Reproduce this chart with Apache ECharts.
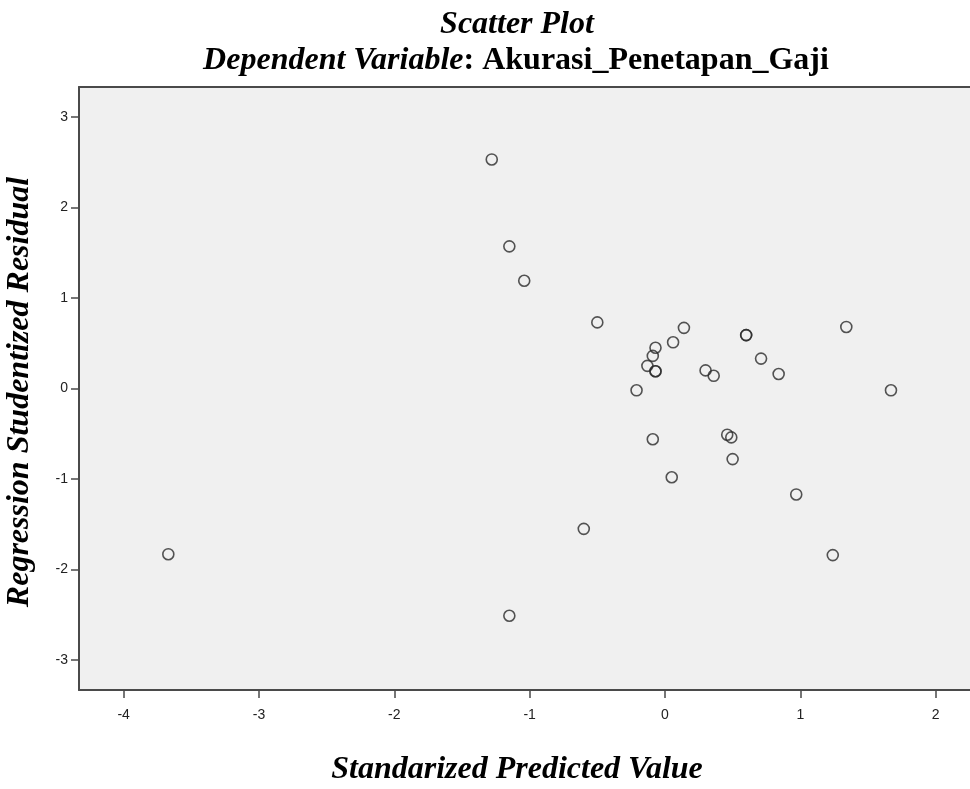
<!DOCTYPE html>
<html>
<head>
<meta charset="utf-8">
<script src="https://cdn.jsdelivr.net/npm/echarts@6/dist/echarts.min.js"></script>
<style>html,body{margin:0;padding:0;background:#fff;}#c{width:970px;height:789px;}</style>
</head>
<body>
<div id="c"></div>
<script>
// Standardized predicted value (x) and studentized residual (y)
var predicted = [-3.67, -1.28, -1.15, -1.04, -0.50, -0.07, -0.09, -0.13, -0.07, -0.07,
                 0.06, 0.14, 0.60, 0.60, 0.71, 0.84, 0.30, 0.36, -0.21, -0.09,
                 0.46, 0.49, 0.50, 0.05, 0.97, 1.24, 1.67, 1.34, -0.60, -1.15];
var residual  = [-1.83, 2.53, 1.57, 1.19, 0.73, 0.45, 0.36, 0.25, 0.19, 0.19,
                 0.51, 0.67, 0.59, 0.59, 0.33, 0.16, 0.20, 0.14, -0.02, -0.56,
                 -0.51, -0.54, -0.78, -0.98, -1.17, -1.84, -0.02, 0.68, -1.55, -2.51];
var xTicks = [-4, -3, -2, -1, 0, 1, 2];
var yTicks = [-3, -2, -1, 0, 1, 2, 3];

var points = predicted.map(function (v, i) { return [v, residual[i]]; });

var chart = echarts.init(document.getElementById('c'));
var axisCol = '#4a4a4a';
var labelStyle = { color: '#222', fontFamily: 'Liberation Sans, Arial, sans-serif', fontSize: 14 };
var serif = '"Liberation Serif", "Times New Roman", serif';
chart.setOption({
  animation: false,
  backgroundColor: '#ffffff',
  grid: { left: 79, top: 87, right: 0, bottom: 99, show: true, backgroundColor: '#f0f0f0', borderWidth: 0 },
  xAxis: [{
    type: 'value', min: -4.33, max: 2.254, position: 'bottom',
    axisLine: { show: true, onZero: false, lineStyle: { color: axisCol, width: 2 } },
    axisTick: { show: true, length: 8, customValues: xTicks, lineStyle: { color: axisCol, width: 1.5 } },
    axisLabel: Object.assign({ customValues: xTicks, margin: 18 }, labelStyle),
    splitLine: { show: false }
  }, {
    type: 'value', min: -4.33, max: 2.254, position: 'top',
    axisLine: { show: true, onZero: false, lineStyle: { color: axisCol, width: 2 } },
    axisTick: { show: false }, axisLabel: { show: false }, splitLine: { show: false }
  }],
  yAxis: {
    type: 'value', min: -3.33, max: 3.33,
    axisLine: { show: true, onZero: false, lineStyle: { color: axisCol, width: 2 } },
    axisTick: { show: true, length: 8, customValues: yTicks, lineStyle: { color: axisCol, width: 1.5 } },
    axisLabel: Object.assign({ customValues: yTicks, margin: 11 }, labelStyle),
    splitLine: { show: false }
  },
  series: [{
    type: 'scatter',
    data: points,
    symbol: 'circle',
    symbolSize: 11,
    itemStyle: { color: 'rgba(0,0,0,0)', borderColor: '#2a2a2a', borderWidth: 1.6 }
  }],
  graphic: [
    { type: 'text', x: 517, y: 25, style: { text: 'Scatter Plot', font: 'italic bold 32px ' + serif, fill: '#000',
        textAlign: 'center', textVerticalAlign: 'middle' } },
    { type: 'text', x: 516, y: 61, style: {
        text: '{a|Dependent Variable}{b|: Akurasi_Penetapan_Gaji}',
        textAlign: 'center', textVerticalAlign: 'middle',
        rich: {
          a: { fontFamily: serif, fontStyle: 'italic', fontWeight: 'bold', fontSize: 32, fill: '#000', color: '#000' },
          b: { fontFamily: serif, fontWeight: 'bold', fontSize: 32, fill: '#000', color: '#000' }
        } } },
    { type: 'text', x: 20, y: 392, rotation: Math.PI / 2, style: {
        text: 'Regression Studentized Residual', font: 'italic bold 32px ' + serif, fill: '#000',
        textAlign: 'center', textVerticalAlign: 'middle' } },
    { type: 'text', x: 517, y: 770, style: {
        text: 'Standarized Predicted Value', font: 'italic bold 32px ' + serif, fill: '#000',
        textAlign: 'center', textVerticalAlign: 'middle' } }
  ]
});
</script>
</body>
</html>
